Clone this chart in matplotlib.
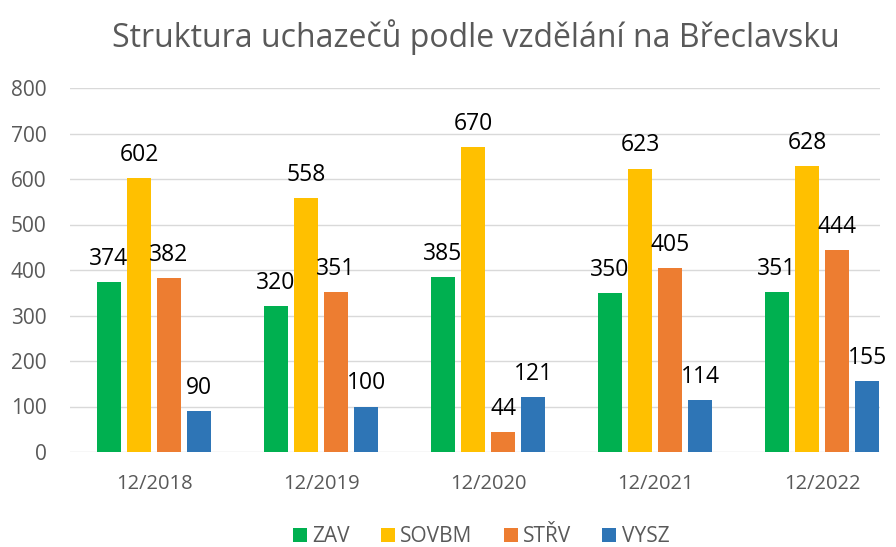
import numpy as np
import matplotlib.pyplot as plt

plt.rcParams['font.family'] = ['Open Sans', 'DejaVu Sans']

# data
obdobi = ['12/2018', '12/2019', '12/2020', '12/2021', '12/2022']
zav = [374, 320, 385, 350, 351]
sovbm = [602, 558, 670, 623, 628]
strv = [382, 351, 44, 405, 444]
vysz = [90, 100, 121, 114, 155]

serie = [('ZAV', zav, '#00B050'), ('SOVBM', sovbm, '#FFC000'),
         ('STŘV', strv, '#ED7D31'), ('VYSZ', vysz, '#2E75B6')]

fig = plt.figure(figsize=(8.96, 5.47), dpi=100)
ax = fig.add_axes([70/896, 1 - 452/547, 810/896, (452 - 88)/547])

x = np.arange(len(obdobi))
sirka = 0.144
posuny = [-0.27, -0.09, 0.09, 0.27]

for (nazev, hodnoty, barva), dx in zip(serie, posuny):
    bars = ax.bar(x + dx, hodnoty, sirka, color=barva, label=nazev, zorder=3)
    ax.bar_label(bars, padding=8, fontsize=16.5, color='black')

ax.set_ylim(0, 800)
ax.set_xlim(-0.503, 4.347)
ax.set_yticks(range(0, 801, 100))
ax.set_xticks(x)
ax.set_xticklabels(obdobi)
ax.tick_params(axis='both', length=0, colors='#595959')
ax.tick_params(axis='x', pad=16, labelsize=14.5)
ax.tick_params(axis='y', pad=17, labelsize=15)
ax.grid(axis='y', color='#D9D9D9', linewidth=1, zorder=0)
for s in ax.spines.values():
    s.set_visible(False)

fig.suptitle('Struktura uchazečů podle vzdělání na Břeclavsku', x=0.531, y=0.965,
             fontsize=23, color='#595959')

fig.legend(loc='lower center', bbox_to_anchor=(0.537, -0.035), ncol=4, frameon=False,
           fontsize=15, labelcolor='#595959', handlelength=0.67, handleheight=0.67,
           handletextpad=0.25, columnspacing=1.5)

fig.savefig('out.png', dpi=100)
